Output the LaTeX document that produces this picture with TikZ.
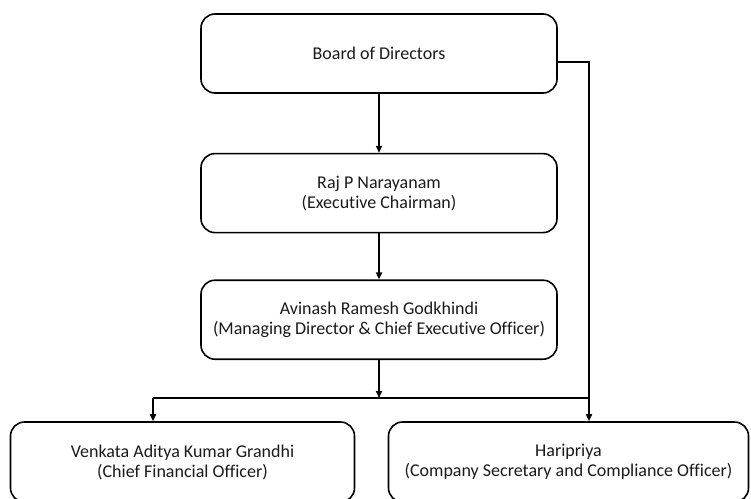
\documentclass[tikz,border=0pt]{standalone}
\usepackage{fontspec}
\setmainfont{Carlito}[Ligatures=NoCommon]
\usepackage{tikz}
\usetikzlibrary{arrows.meta,positioning}
\definecolor{ink}{HTML}{1A1A1A}

\begin{document}
\begin{tikzpicture}[x=1pt,y=-1pt,font=\fontsize{18}{20}\selectfont,text=ink,
  post/.style={draw,line width=1.6pt,rounded corners=14pt,minimum height=79pt,align=center,inner sep=0pt},
  topbox/.style={post,minimum width=356pt},
  arr/.style={-{Triangle[length=7pt,width=6pt]},line width=1.6pt},
  rail/.style={line width=1.6pt}]
\useasboundingbox (0,0) rectangle (751,498);
\node[topbox] (board) at (379,53.5) {Board of Directors};
\node[topbox,below=59pt of board] (raj) {Raj P Narayanam\\(Executive Chairman)};
\node[topbox,below=46pt of raj] (avinash) {Avinash Ramesh Godkhindi\\(Managing Director \& Chief Executive Officer)};
\node[post,minimum width=344pt,minimum height=80pt] (venkata) at (182.5,462) {Venkata Aditya Kumar Grandhi\\(Chief Financial Officer)};
\node[post,minimum width=360pt,minimum height=80pt] (haripriya) at (568.5,462) {Haripriya\\(Company Secretary and Compliance Officer)};
\coordinate (split) at (153,398);
\coordinate (side) at (589,62);
\draw[arr] (board) -- (raj);
\draw[arr] (raj) -- (avinash);
\draw[arr] (avinash) -- (avinash.south |- split);
\draw[rail] (split) -- (split -| side);
\draw[arr] (split) -- (split |- venkata.north);
\draw[arr] (board.east |- side) -- (side) -- (side |- haripriya.north);
\end{tikzpicture}
\end{document}
